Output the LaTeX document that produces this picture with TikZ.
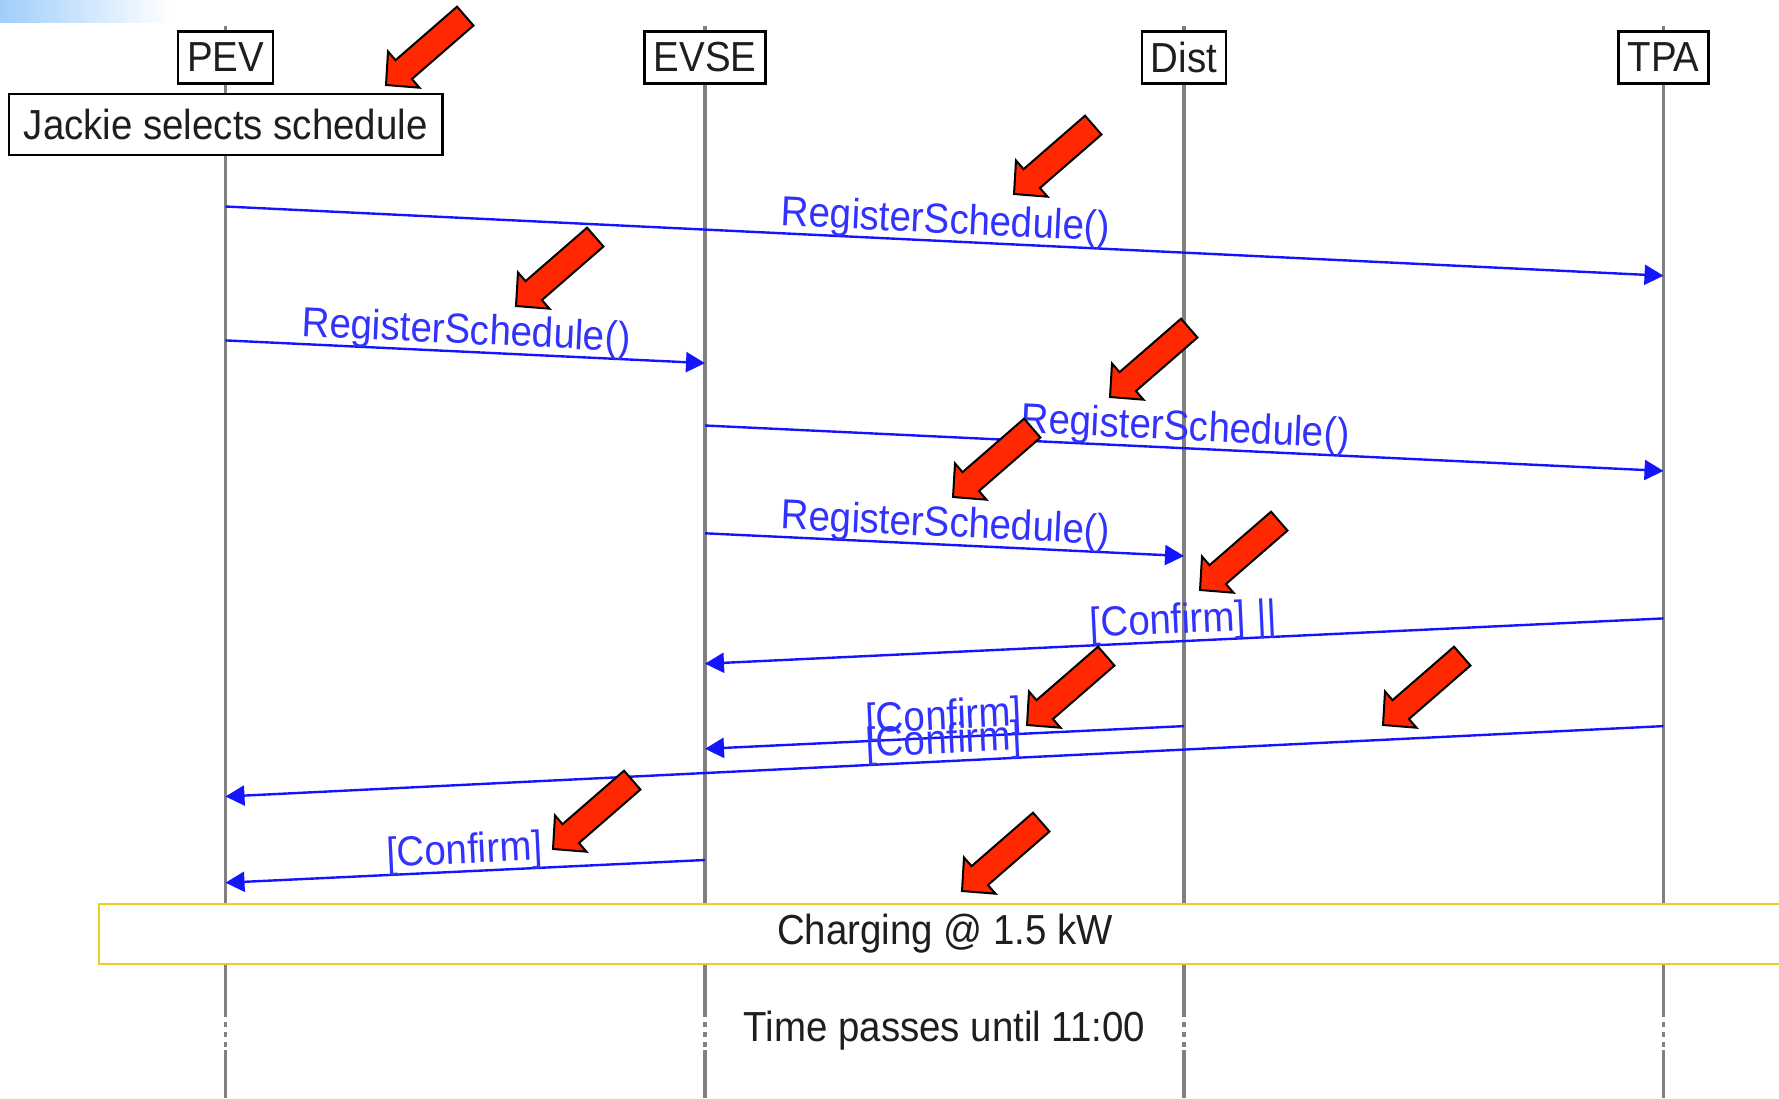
\documentclass[tikz,border=0pt]{standalone}
\usepackage{fontspec}
\setmainfont[FakeStretch=0.915]{Liberation Sans}
\usepackage{tikz}
\usetikzlibrary{arrows.meta}
\definecolor{lifegray}{RGB}{128,128,128}
\definecolor{msgblue}{RGB}{20,20,255}
\definecolor{lblblue}{RGB}{50,50,255}
\definecolor{noteyellow}{RGB}{240,204,30}
\definecolor{calloutred}{RGB}{255,40,0}
\definecolor{fadeblue}{RGB}{160,206,250}
\definecolor{inkgray}{RGB}{30,30,30}

\begin{document}
\begin{tikzpicture}[x=1pt, y=-1pt,
  every node/.style={font=\fontsize{42}{50}\selectfont, text=inkgray},
  actor/.style={draw=black, line width=2.5pt, fill=white, inner xsep=9pt, minimum height=51.6pt},
  lifeline/.style={draw=lifegray, line width=3.5pt},
  lifepause/.style={lifeline, dash pattern=on 5pt off 5pt},
  msg/.style={draw=msgblue, line width=2.4pt, -{Triangle[length=19pt,width=20pt]}},
  lbl/.style={midway, above, sloped, inner sep=0pt, yshift=-2pt, text=lblblue},
  pics/callout/.style={code={
    \filldraw[fill=calloutred, draw=black, line width=2pt, line join=miter]
      (0pt,0pt) -- (23.5pt,24pt) -- (23.5pt,12.5pt) -- (105pt,12.5pt)
      -- (105pt,-12.5pt) -- (23.5pt,-12.5pt) -- (23.5pt,-24pt) -- cycle;}}]
  \useasboundingbox (0,0) rectangle (1779,1098);
  \shade[left color=fadeblue, right color=white] (0,0) rectangle (172,22);

  % actors
  \node[actor] (pev) at (225.5,57.5) {PEV};
  \node[actor] (evse) at (705,57.5) {EVSE};
  \node[actor] (dist) at (1184,57.5) {Dist};
  \node[actor] (tpa) at (1663.5,57.5) {TPA};

  % lifelines
  \draw[lifeline] (pev |- 0,26) -- (pev.north) (pev.south) -- (pev |- 0,1012) (pev |- 0,1050) -- (pev |- 0,1098);
  \draw[lifepause] (pev |- 0,1012) -- (pev |- 0,1050);
  \draw[lifeline] (evse |- 0,26) -- (evse.north) (evse.south) -- (evse |- 0,1012) (evse |- 0,1050) -- (evse |- 0,1098);
  \draw[lifepause] (evse |- 0,1012) -- (evse |- 0,1050);
  \draw[lifeline] (dist |- 0,26) -- (dist.north) (dist.south) -- (dist |- 0,1012) (dist |- 0,1050) -- (dist |- 0,1098);
  \draw[lifepause] (dist |- 0,1012) -- (dist |- 0,1050);
  \draw[lifeline] (tpa |- 0,26) -- (tpa.north) (tpa.south) -- (tpa |- 0,1012) (tpa |- 0,1050) -- (tpa |- 0,1098);
  \draw[lifepause] (tpa |- 0,1012) -- (tpa |- 0,1050);

  \node[actor, inner xsep=15pt, minimum height=61pt] (jackie) at (225.7,124.5) {Jackie selects schedule};

  % messages
  \draw[msg] (pev |- 0,206.5) -- node[lbl] {RegisterSchedule()} (tpa |- 0,275.7);
  \draw[msg] (pev |- 0,340.4) -- node[lbl] {RegisterSchedule()} (evse |- 0,363.1);
  \draw[msg] (evse |- 0,425.5) -- node[lbl] {RegisterSchedule()} (tpa |- 0,470.9);
  \draw[msg] (evse |- 0,533.3) -- node[lbl] {RegisterSchedule()} (dist |- 0,556);
  \draw[msg] (tpa |- 0,618.4) -- node[lbl] {[Confirm] ||} (evse |- 0,663.7);
  \draw[msg] (dist |- 0,726.1) -- node[lbl] {[Confirm]} (evse |- 0,748.8);
  \draw[msg] (tpa |- 0,726.1) -- node[lbl] {[Confirm]} (pev |- 0,796.5);
  \draw[msg] (evse |- 0,860) -- node[lbl] {[Confirm]} (pev |- 0,882.7);

  \node[draw=noteyellow, line width=2.5pt, fill=white, minimum width=1692pt, minimum height=60pt] (charging) at (945,934) {\raisebox{-3pt}{Charging @ 1.5 kW}};
  \node (timepasses) at (944.5,1031) {Time passes until 11:00};

  % red callouts
  \pic[rotate=41] at (386,85) {callout};
  \pic[rotate=41] at (1014,194) {callout};
  \pic[rotate=41] at (516,306) {callout};
  \pic[rotate=41] at (1110,397) {callout};
  \pic[rotate=41] at (953,497) {callout};
  \pic[rotate=41] at (1200,590) {callout};
  \pic[rotate=41] at (1027,725) {callout};
  \pic[rotate=41] at (1383,725) {callout};
  \pic[rotate=41] at (553,849) {callout};
  \pic[rotate=41] at (962,891) {callout};
\end{tikzpicture}
\end{document}
